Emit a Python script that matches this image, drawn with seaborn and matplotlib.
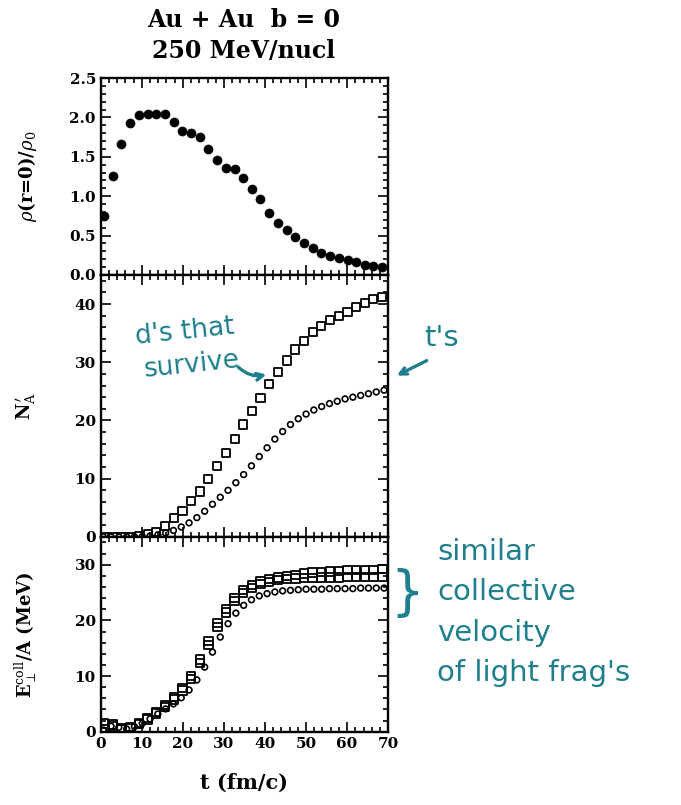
import numpy as np
import matplotlib
matplotlib.use("Agg")
import matplotlib.pyplot as plt
from matplotlib.ticker import MultipleLocator
import seaborn as sns

#-----------------------------------------------------------------------
# Data
# time grid of the filled circles / open squares (fm/c)
t_sq = [0.8, 2.9, 5.0, 7.2, 9.3, 11.4, 13.5, 15.6, 17.8, 19.9, 22.0, 24.1,
        26.2, 28.4, 30.5, 32.6, 34.7, 36.8, 38.9, 41.0, 43.2, 45.3, 47.4,
        49.5, 51.6, 53.7, 55.9, 58.0, 60.1, 62.2, 64.3, 66.4, 68.6]
# time grid of the open circles (fm/c)
t_ci = [0.6, 2.5, 4.4, 6.3, 8.2, 10.1, 12.0, 13.9, 15.8, 17.7, 19.6, 21.5,
        23.4, 25.3, 27.2, 29.1, 31.0, 32.9, 34.8, 36.7, 38.6, 40.5, 42.4,
        44.3, 46.2, 48.1, 50.0, 51.9, 53.8, 55.7, 57.6, 59.5, 61.4, 63.3,
        65.2, 67.1, 69.0]

# central density rho(r=0)/rho0
rho = [0.75, 1.26, 1.66, 1.93, 2.03, 2.05, 2.05, 2.04, 1.94, 1.83, 1.80,
       1.75, 1.60, 1.46, 1.36, 1.34, 1.23, 1.09, 0.96, 0.79, 0.66, 0.57,
       0.48, 0.40, 0.34, 0.28, 0.24, 0.21, 0.19, 0.16, 0.13, 0.12, 0.10]

# N_A' : d's (squares) and t's (circles)
n_d = [0.0, 0.0, 0.0, 0.05, 0.15, 0.4, 0.9, 1.8, 3.2, 4.5, 6.1, 7.8, 9.9,
       12.1, 14.4, 16.8, 19.3, 21.6, 23.9, 26.2, 28.4, 30.3, 32.2, 33.7,
       35.2, 36.2, 37.2, 38.0, 38.7, 39.5, 40.2, 40.8, 41.2]
n_t = [0.0, 0.0, 0.0, 0.0, 0.0, 0.05, 0.15, 0.35, 0.65, 1.1, 1.7, 2.4, 3.3,
       4.4, 5.6, 6.8, 8.0, 9.3, 10.7, 12.2, 13.8, 15.3, 16.8, 18.1, 19.3,
       20.3, 21.1, 21.8, 22.4, 22.9, 23.3, 23.7, 24.0, 24.3, 24.6, 24.9, 25.2]

# E_perp^coll / A (MeV)
e_sq_hi = [1.5, 1.3, 0.7, 0.9, 1.6, 2.5, 3.6, 4.8, 6.2, 7.8, 10.0, 13.0,
           16.3, 19.5, 22.0, 24.0, 25.4, 26.3, 27.0, 27.4, 27.7, 28.0, 28.2,
           28.4, 28.6, 28.7, 28.8, 28.9, 29.0, 29.0, 29.1, 29.1, 29.2]
e_sq_lo = [0.4, 1.0, 0.5, 0.6, 1.4, 2.2, 3.3, 4.5, 5.8, 7.4, 9.5, 12.4,
           15.6, 18.8, 21.4, 23.5, 24.9, 25.8, 26.5, 26.9, 27.2, 27.4, 27.5,
           27.6, 27.6, 27.7, 27.7, 27.7, 27.8, 27.8, 27.8, 27.8, 27.8]
e_ci = [0.3, 1.0, 0.8, 0.5, 0.9, 1.5, 2.3, 3.2, 4.1, 5.0, 6.1, 7.5, 9.3,
        11.6, 14.3, 17.0, 19.4, 21.3, 22.7, 23.7, 24.4, 24.8, 25.1, 25.3,
        25.4, 25.5, 25.6, 25.6, 25.6, 25.7, 25.7, 25.7, 25.7, 25.8, 25.8,
        25.8, 25.8]

#-----------------------------------------------------------------------
sns.set_theme(style="ticks")
plt.rcParams['font.family'] = ['DejaVu Serif']
plt.rcParams['mathtext.fontset'] = 'dejavuserif'
for key in ('text.color', 'axes.labelcolor', 'xtick.color', 'ytick.color',
            'axes.edgecolor'):
    plt.rcParams[key] = 'black'

hand = '#1f7f8c'

fig, (ax1, ax2, ax3) = plt.subplots(
    3, 1, figsize=(6.81, 8.05), dpi=100, sharex=True,
    gridspec_kw={'height_ratios': [197, 262, 195], 'hspace': 0})
fig.subplots_adjust(left=0.148, right=0.570, top=0.903, bottom=0.091)

# density (filled circles)
sns.scatterplot(x=t_sq, y=rho, ax=ax1, marker='o', s=42, color='black',
                edgecolor='black', linewidth=0.5)

# multiplicities
sns.scatterplot(x=t_sq, y=n_d, ax=ax2, marker='s', s=34, facecolor='none',
                edgecolor='black', linewidth=1.3)
sns.scatterplot(x=t_ci, y=n_t, ax=ax2, marker='o', s=17, facecolor='none',
                edgecolor='black', linewidth=1.2)

# collective energy
sns.scatterplot(x=t_sq, y=e_sq_hi, ax=ax3, marker='s', s=36, facecolor='none',
                edgecolor='black', linewidth=1.3)
sns.scatterplot(x=t_sq, y=e_sq_lo, ax=ax3, marker='s', s=36, facecolor='none',
                edgecolor='black', linewidth=1.3)
sns.scatterplot(x=t_ci, y=e_ci, ax=ax3, marker='o', s=17, facecolor='none',
                edgecolor='black', linewidth=1.2)

ax1.set_ylim(0, 2.5)
ax2.set_ylim(0, 45)
ax3.set_ylim(0, 35)
ax3.set_xlim(0, 70)

ax1.yaxis.set_major_locator(MultipleLocator(0.5))
ax1.yaxis.set_minor_locator(MultipleLocator(0.1))
ax1.set_yticklabels([f"{v:.1f}" for v in ax1.get_yticks()])
for ax in (ax2, ax3):
    ax.yaxis.set_major_locator(MultipleLocator(10))
    ax.yaxis.set_minor_locator(MultipleLocator(2))
for ax in (ax1, ax2, ax3):
    ax.xaxis.set_major_locator(MultipleLocator(10))
    ax.xaxis.set_minor_locator(MultipleLocator(2))
    ax.tick_params(which='both', direction='in', top=True, right=True,
                   width=1.2, labelsize=11)
    ax.tick_params(which='major', length=7)
    ax.tick_params(which='minor', length=3.5)
    for sp in ax.spines.values():
        sp.set_linewidth(1.7)
    for lab in ax.get_xticklabels() + ax.get_yticklabels():
        lab.set_fontweight('bold')

ax1.set_ylabel(r'$\rho$(r=0)/$\rho_0$', fontsize=13, fontweight='bold')
ax2.set_ylabel(r"N$_\mathrm{A}^{\,\prime}$", fontsize=13, fontweight='bold')
ax3.set_ylabel(r"E$_\perp^\mathrm{coll}$/A (MeV)", fontsize=13, fontweight='bold')
for ax in (ax1, ax2, ax3):
    ax.yaxis.set_label_coords(-0.215, 0.5)
ax3.set_xlabel('t (fm/c)', fontsize=15, fontweight='bold', labelpad=16)

fig.text(0.358, 0.975, 'Au + Au  b = 0', ha='center', va='center',
         fontsize=17, fontweight='bold')
fig.text(0.358, 0.937, '250 MeV/nucl', ha='center', va='center',
         fontsize=17, fontweight='bold')

# handwritten notes
note_font = dict(color=hand, family='DejaVu Sans', ha='center', va='center')
fig.text(0.272, 0.588, "d's that", fontsize=19, rotation=6, **note_font)
fig.text(0.282, 0.546, "survive", fontsize=19, rotation=6, **note_font)
ax2.annotate("", xy=(41, 28), xytext=(33, 29.5),
             arrowprops=dict(arrowstyle='->', color=hand, lw=2.4,
                             connectionstyle='arc3,rad=0.3'))
fig.text(0.648, 0.580, "t's", fontsize=21, **note_font)
ax2.annotate("", xy=(71.5, 27.5), xytext=(80, 30.5), annotation_clip=False,
             arrowprops=dict(arrowstyle='->', color=hand, lw=2.4))
fig.text(0.598, 0.262, "}", color=hand, fontsize=38, ha='center',
         va='center', family='DejaVu Sans')
notes = ["similar", "collective", "velocity", "of light frag's"]
for k, line in enumerate(notes):
    fig.text(0.642, 0.314 - k * 0.050, line, color=hand, fontsize=21,
             family='DejaVu Sans', ha='left', va='center')

fig.savefig('out.png', dpi=100)
